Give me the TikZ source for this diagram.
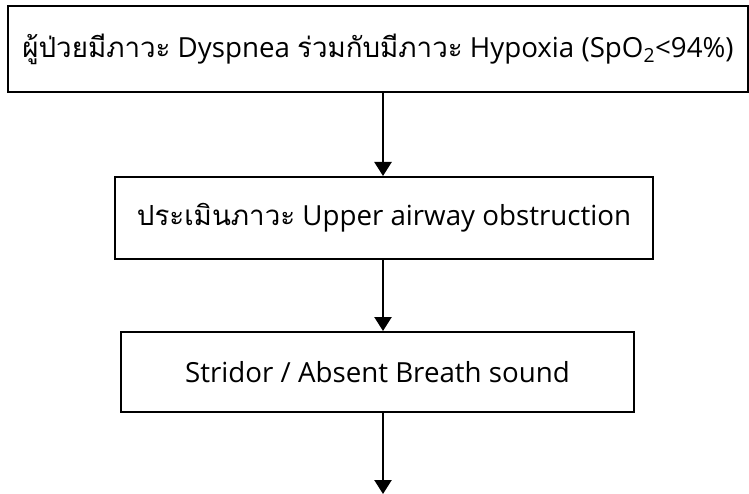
\documentclass[tikz,border=0pt]{standalone}
\usepackage{fontspec}
\setmainfont{Open Sans}
\newfontfamily\thai[Script=Thai]{Loma}
\usetikzlibrary{arrows.meta}
\begin{document}
\begin{tikzpicture}[x=1pt,y=-1pt,
  box/.style={draw,line width=2pt,inner sep=0pt,font=\fontsize{27.7}{32}\selectfont},
  arr/.style={line width=2.4pt,-{Triangle[width=17pt,length=14pt]}}]
\useasboundingbox (0,0) rectangle (749,494);
\node[box,minimum width=740pt,minimum height=86pt] (b1) at (378,49)
  {{\thai ผู้ป่วยมีภาวะ} Dyspnea {\thai ร่วมกับมีภาวะ} Hypoxia (SpO\textsubscript{2}<94\%)};
\node[box,minimum width=538pt,minimum height=82pt] (b2) at (384,218)
  {{\thai ประเมินภาวะ} Upper airway obstruction};
\node[box,minimum width=513pt,minimum height=80pt] (b3) at (377.5,372)
  {Stridor / Absent Breath sound};
\coordinate (ax) at (383,0);
\coordinate (e) at (383,494);
\draw[arr] (b1.south -| ax) -- (b2.north -| ax);
\draw[arr] (b2.south -| ax) -- (b3.north -| ax);
\draw[arr] (b3.south -| ax) -- (e);
\end{tikzpicture}
\end{document}
